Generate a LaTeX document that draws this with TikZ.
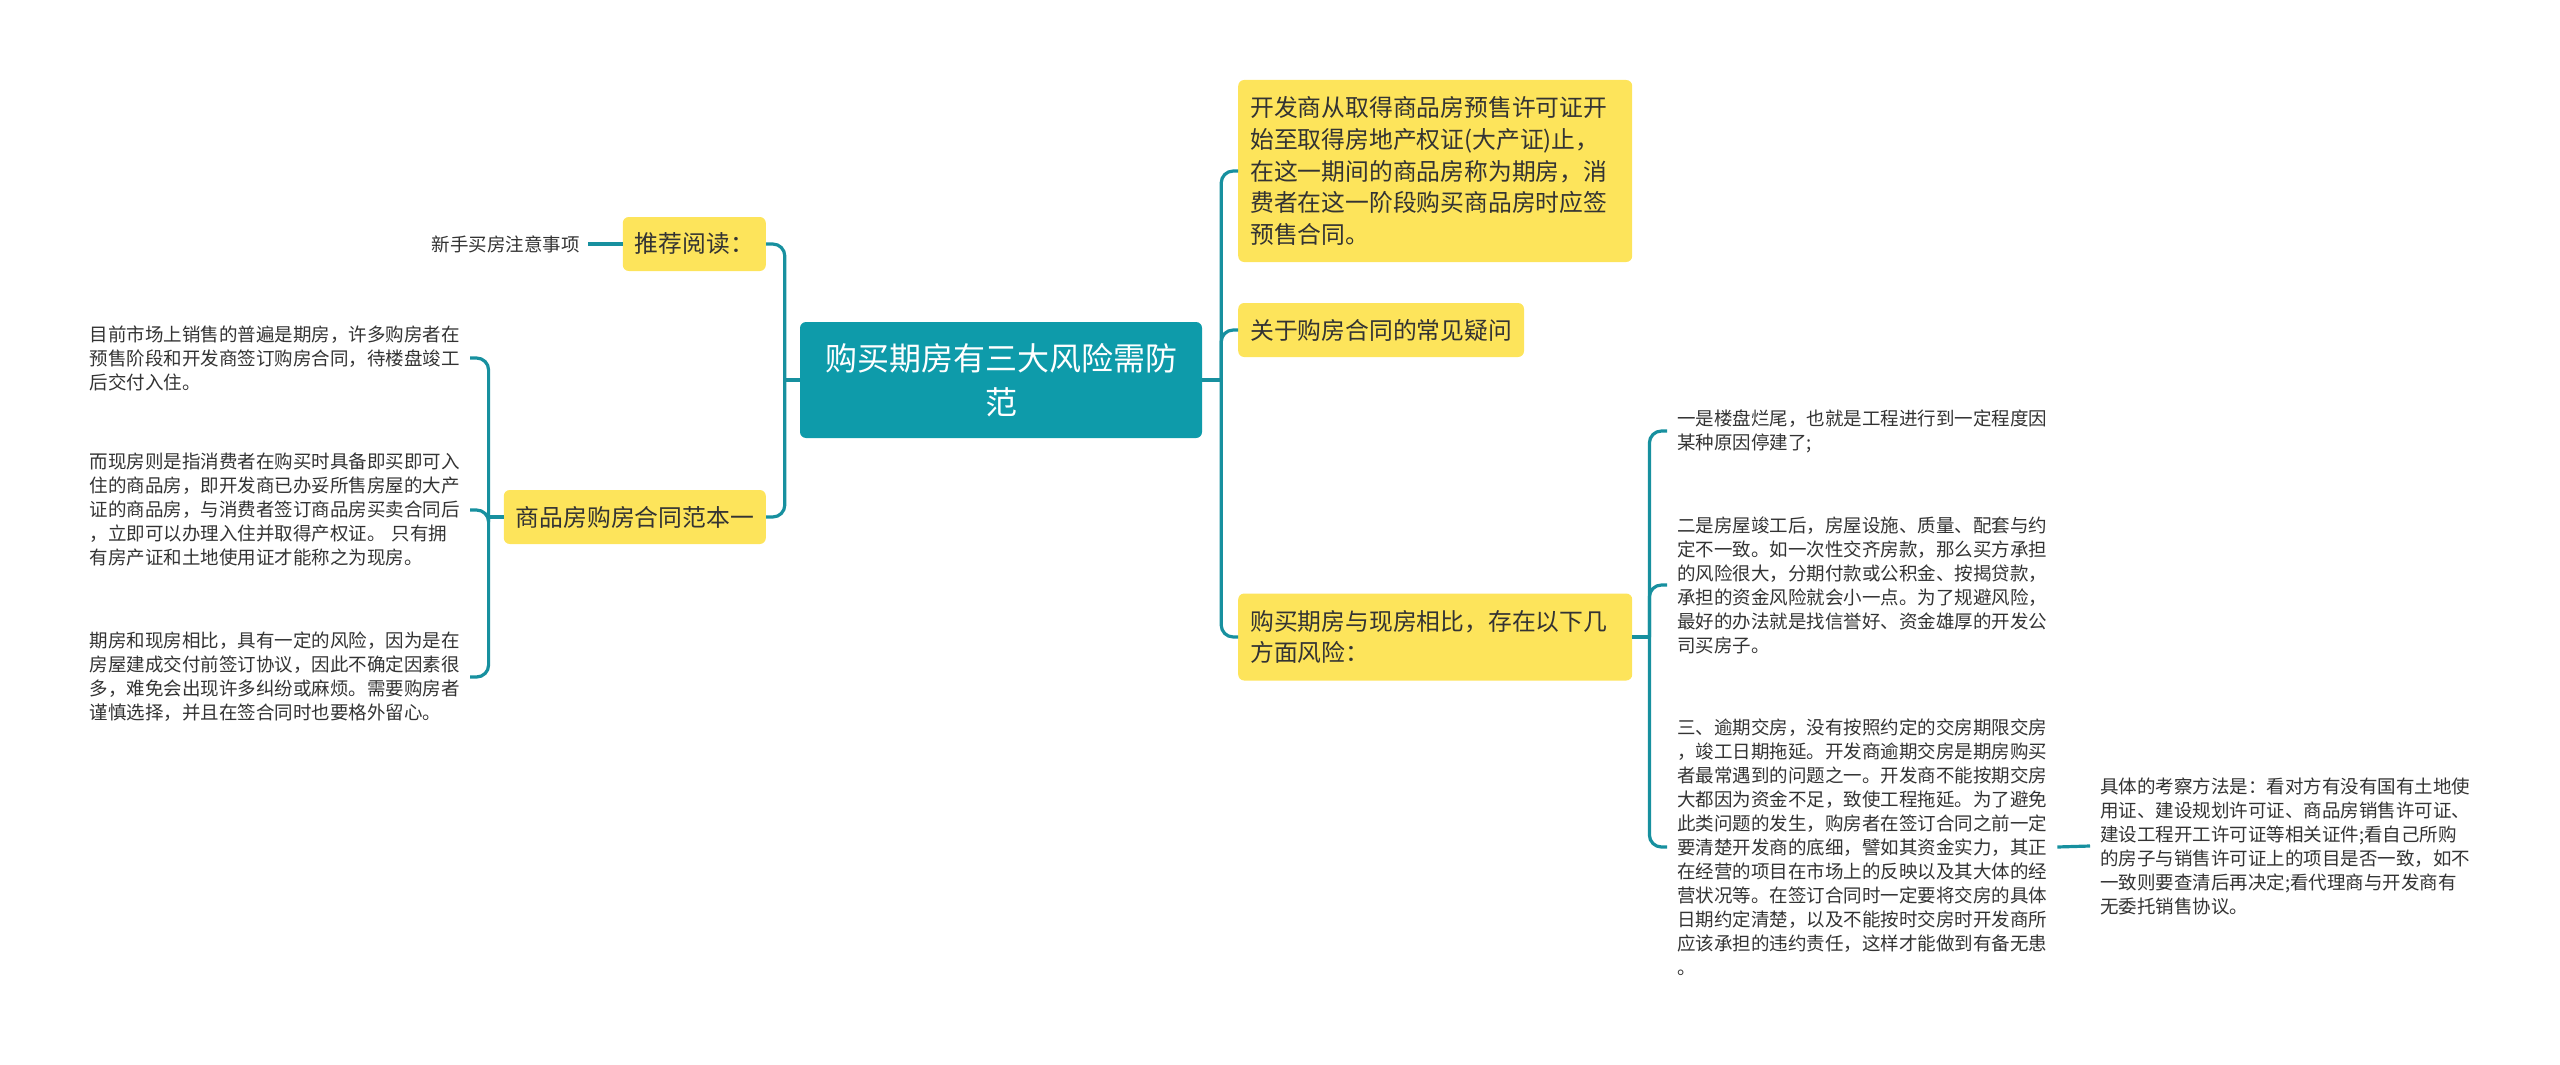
\documentclass[tikz,border=0pt]{standalone}
\usepackage{fontspec}
\setmainfont{Noto Sans CJK SC}
\newfontfamily\cjk{Noto Sans CJK SC}
\definecolor{yel}{HTML}{FDE45B}
\definecolor{tealc}{HTML}{0E9BAA}
\definecolor{lnc}{HTML}{17909F}
\definecolor{txt}{HTML}{333333}
\begin{document}
\begin{tikzpicture}[x=1pt,y=-1pt,
  yel/.style={fill=yel, rounded corners=6pt, inner xsep=12pt, inner ysep=8pt,
    font=\cjk\fontsize{23.8}{31.75}\selectfont, align=left, text=txt},
  leaf/.style={inner xsep=10pt, inner ysep=4pt, text width=370pt,
    font=\cjk\fontsize{18.5}{24}\selectfont, align=left, text=txt},
  central/.style={fill=tealc, rounded corners=6pt, minimum width=402pt, minimum height=116pt,
    text width=370pt, align=center, text=white, font=\cjk\fontsize{32}{44}\selectfont},
  conn/.style={draw=lnc, line width=3.2pt, rounded corners=12pt}]
\useasboundingbox (0,0) rectangle (2560,1065);

% central
\node[central] (c) at (1001,380) {购买期房有三大风险需防\\范};

% left side
\node[yel, anchor=east, minimum height=54pt] (read) at (766,244) {推荐阅读：};
\node[leaf, text width=, inner xsep=8pt, anchor=east] (new) at (588,244) {新手买房注意事项};
\node[yel, anchor=east, minimum height=54pt] (spec) at (766,517) {商品房购房合同范本一};

\node[leaf, anchor=east] (l1) at (470,358) {目前市场上销售的普遍是期房，许多购房者在\\预售阶段和开发商签订购房合同，待楼盘竣工\\后交付入住。};
\node[leaf, anchor=east] (l2) at (470,510) {而现房则是指消费者在购买时具备即买即可入\\住的商品房，即开发商已办妥所售房屋的大产\\证的商品房，与消费者签订商品房买卖合同后\\，立即可以办理入住并取得产权证。 只有拥\\有房产证和土地使用证才能称之为现房。};
\node[leaf, anchor=east] (l3) at (470,677) {期房和现房相比，具有一定的风险，因为是在\\房屋建成交付前签订协议，因此不确定因素很\\多，难免会出现许多纠纷或麻烦。需要购房者\\谨慎选择，并且在签合同时也要格外留心。};

% right side
\node[yel, anchor=west, text width=370pt, minimum height=182pt] (a) at (1238,171) {开发商从取得商品房预售许可证开\\始至取得房地产权证(大产证)止，\\在这一期间的商品房称为期房，消\\费者在这一阶段购买商品房时应签\\预售合同。};
\node[yel, anchor=west, minimum height=54pt] (b) at (1238,330) {关于购房合同的常见疑问};
\node[yel, anchor=west, text width=370pt, minimum height=87pt] (risk) at (1238,637) {购买期房与现房相比，存在以下几\\方面风险：};

\node[leaf, anchor=west] (r1) at (1667,431) {一是楼盘烂尾，也就是工程进行到一定程度因\\某种原因停建了;};
\node[leaf, anchor=west] (r2) at (1667,585) {二是房屋竣工后，房屋设施、质量、配套与约\\定不一致。如一次性交齐房款，那么买方承担\\的风险很大，分期付款或公积金、按揭贷款，\\承担的资金风险就会小一点。为了规避风险，\\最好的办法就是找信誉好、资金雄厚的开发公\\司买房子。};
\node[leaf, anchor=west] (r3) at (1667,847) {三、逾期交房，没有按照约定的交房期限交房\\，竣工日期拖延。开发商逾期交房是期房购买\\者最常遇到的问题之一。开发商不能按期交房\\大都因为资金不足，致使工程拖延。为了避免\\此类问题的发生，购房者在签订合同之前一定\\要清楚开发商的底细，譬如其资金实力，其正\\在经营的项目在市场上的反映以及其大体的经\\营状况等。在签订合同时一定要将交房的具体\\日期约定清楚，以及不能按时交房时开发商所\\应该承担的违约责任，这样才能做到有备无患\\。};
\node[leaf, anchor=west] (r4) at (2090,846) {具体的考察方法是：看对方有没有国有土地使\\用证、建设规划许可证、商品房销售许可证、\\建设工程开工许可证等相关证件;看自己所购\\的房子与销售许可证上的项目是否一致，如不\\一致则要查清后再决定;看代理商与开发商有\\无委托销售协议。};

% connectors
\coordinate (jl) at ([xshift=-15pt]c.west);
\draw[conn] (c.west) -- (jl);
\draw[conn] (jl) |- (read.east);
\draw[conn] (jl) |- (spec.east);
\draw[conn] (read.west) -- (new.east);

\coordinate (js) at ([xshift=-15pt]spec.west);
\draw[conn] (spec.west) -- (js);
\draw[conn] (js) |- (l1.east);
\draw[conn] (js) |- (l2.east);
\draw[conn] (js) |- (l3.east);

\coordinate (jr) at ([xshift=19pt]c.east);
\draw[conn] (c.east) -- (jr);
\draw[conn] (jr) |- (a.west);
\draw[conn] (jr) |- (b.west);
\draw[conn] (jr) |- (risk.west);

\coordinate (jk) at ([xshift=17pt]risk.east);
\draw[conn] (risk.east) -- (jk);
\draw[conn] (jk) |- (r1.west);
\draw[conn] (jk) |- (r2.west);
\draw[conn] (jk) |- (r3.west);
\draw[conn] (r3.east) -- (r4.west);
\end{tikzpicture}
\end{document}
